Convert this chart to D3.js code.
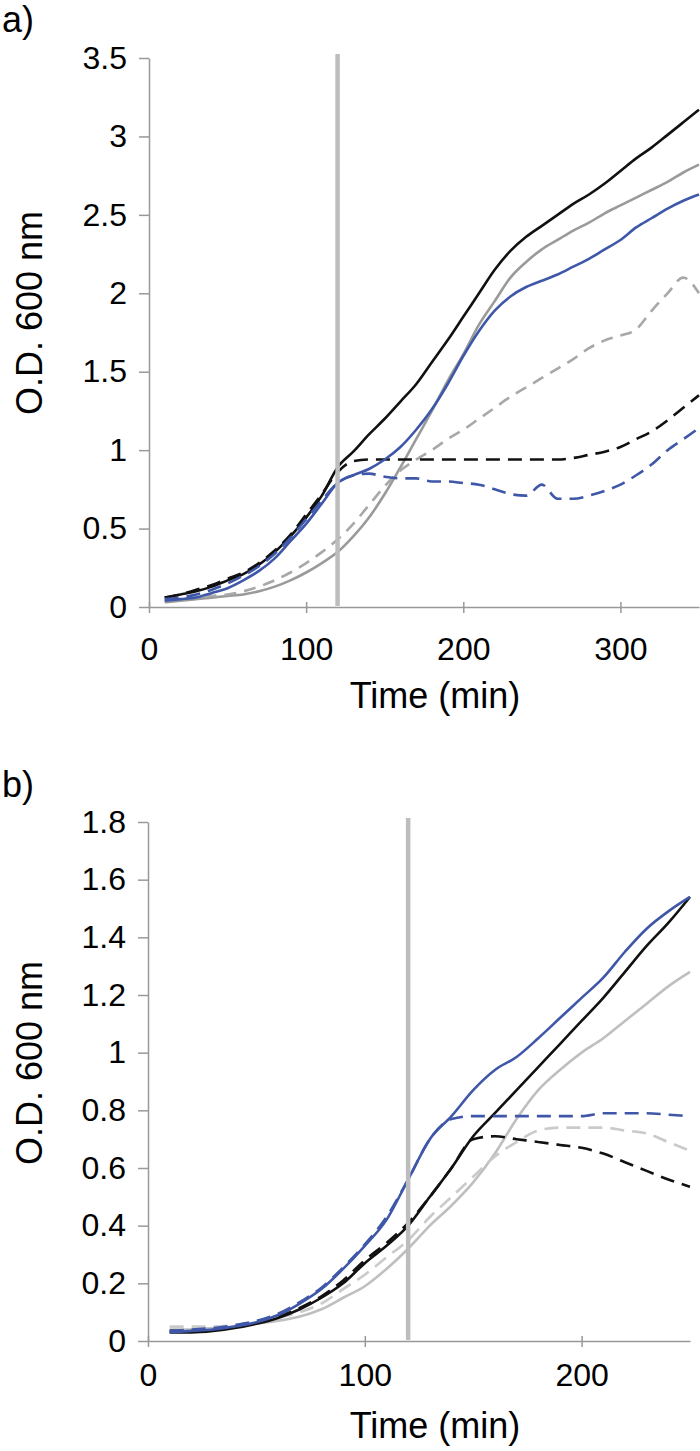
<!DOCTYPE html>
<html>
<head>
<meta charset="utf-8">
<script src="https://cdn.jsdelivr.net/npm/d3@7/dist/d3.min.js"></script>
<style>
  body { margin: 0; background: #fff; }
  text { font-family: "Liberation Sans", Arial, Helvetica, sans-serif; fill: #000; }
</style>
</head>
<body>
<svg id="chart" width="700" height="1451"></svg>
<script>
// ---- panel a data (time in min, O.D. 600 nm) ----
const timeA = [10,20,30,40,50,60,70,80,90,100,110,120,130,140,150,160,170,180,190,200,
               210,220,230,240,250,260,270,280,290,300,310,320,330,340,350]
const aBlackSolid = [0.06,0.08,0.10,0.13,0.17,0.21,0.27,0.35,0.45,0.57,0.71,0.89,0.99,1.10,1.20,1.31,1.42,1.56,1.70,1.85,
                     2.00,2.15,2.27,2.36,2.43,2.50,2.57,2.63,2.70,2.78,2.86,2.93,3.01,3.09,3.17]
const aBlackDash  = [0.06,0.08,0.11,0.14,0.18,0.22,0.28,0.36,0.46,0.59,0.72,0.86,0.93,0.94,0.94,0.94,0.94,0.94,0.94,0.94,
                     0.94,0.94,0.94,0.94,0.94,0.94,0.95,0.97,0.99,1.02,1.07,1.12,1.19,1.27,1.35]
const aBlueSolid  = [0.04,0.05,0.06,0.09,0.12,0.17,0.23,0.31,0.42,0.53,0.66,0.79,0.84,0.88,0.94,1.02,1.13,1.26,1.42,1.60,
                     1.76,1.89,1.98,2.04,2.08,2.12,2.17,2.22,2.28,2.34,2.42,2.48,2.54,2.59,2.63]
const aBlueDash   = [0.05,0.06,0.08,0.11,0.15,0.20,0.26,0.34,0.44,0.56,0.68,0.79,0.84,0.85,0.83,0.82,0.82,0.80,0.80,0.79,
                     0.78,0.75,0.72,0.71,0.78,0.69,0.69,0.71,0.74,0.78,0.84,0.91,1.00,1.07,1.14]
const aGreySolid  = [0.03,0.04,0.05,0.06,0.07,0.08,0.10,0.13,0.17,0.22,0.28,0.35,0.45,0.57,0.72,0.89,1.07,1.25,1.44,1.61,
                     1.80,1.95,2.10,2.20,2.28,2.34,2.40,2.45,2.51,2.56,2.61,2.66,2.71,2.77,2.82]
const aGreyDash   = [0.04,0.05,0.06,0.07,0.08,0.10,0.13,0.17,0.22,0.28,0.35,0.43,0.53,0.65,0.77,0.87,0.94,1.00,1.07,1.13,
                     1.20,1.27,1.34,1.40,1.46,1.52,1.58,1.65,1.70,1.73,1.77,1.89,2.00,2.10,2.00]
const aYTicks = [0,0.5,1,1.5,2,2.5,3,3.5]
const aXTicks = [0,100,200,300]

// ---- panel b data ----
const timeB = [10,20,30,40,50,60,70,80,90,100,110,120,130,140,150,160,170,180,190,200,210,220,230,240,250]
const bBlackSolid = [0.03,0.03,0.035,0.045,0.06,0.08,0.11,0.15,0.20,0.27,0.33,0.40,0.50,0.60,0.71,0.79,0.87,0.95,1.03,1.11,1.19,1.28,1.37,1.45,1.54]
const bBlackDash  = [0.035,0.035,0.04,0.05,0.065,0.085,0.115,0.155,0.21,0.28,0.34,0.41,0.50,0.60,0.70,0.71,0.70,0.69,0.68,0.67,0.65,0.62,0.59,0.56,0.535]
const bBlueSolid  = [0.03,0.035,0.04,0.05,0.065,0.09,0.13,0.18,0.25,0.33,0.42,0.56,0.70,0.78,0.87,0.94,0.985,1.05,1.12,1.19,1.26,1.35,1.43,1.49,1.54]
const bBlueDash   = [0.035,0.04,0.045,0.055,0.07,0.095,0.135,0.185,0.255,0.335,0.43,0.56,0.70,0.77,0.78,0.78,0.78,0.78,0.78,0.78,0.79,0.79,0.79,0.785,0.78]
const bGreySolid  = [0.04,0.04,0.045,0.05,0.06,0.07,0.085,0.11,0.15,0.19,0.25,0.32,0.40,0.47,0.55,0.65,0.77,0.87,0.94,1.00,1.05,1.11,1.17,1.23,1.28]
const bGreyDash   = [0.05,0.05,0.05,0.055,0.065,0.08,0.10,0.13,0.18,0.23,0.29,0.35,0.43,0.50,0.57,0.64,0.69,0.73,0.74,0.74,0.74,0.73,0.72,0.69,0.66]
const bYTicks = [0,0.2,0.4,0.6,0.8,1,1.2,1.4,1.6,1.8]
const bXTicks = [0,100,200]

const shiftTime = 120   // time the cultures were treated (grey vertical bar)

const blue = '#3f57a8'

const panels = [
    {
        label: 'a)', labelY: 32,
        time: timeA, xMax: 350, yMax: 3.5,
        xRange: [149, 699], yRange: [607, 58],
        xTicks: aXTicks, yTicks: aYTicks,
        xLabelGap: 30, titleGap: 101, yTitleY: 313,
        series: [
            {values: aGreySolid, color: '#9a9a9a'},
            {values: aGreyDash, color: '#a8a8a8', dash: '12,8'},
            {values: aBlackSolid, color: '#111'},
            {values: aBlackDash, color: '#111', dash: '14,8'},
            {values: aBlueSolid, color: blue},
            {values: aBlueDash, color: blue, dash: '14,8'},
        ]
    },
    {
        label: 'b)', labelY: 797,
        time: timeB, xMax: 250, yMax: 1.8,
        xRange: [148, 690], yRange: [1341, 822],
        xTicks: bXTicks, yTicks: bYTicks,
        xLabelGap: 22, titleGap: 97, yTitleY: 1063,
        series: [
            {values: bGreySolid, color: '#bfbfbf'},
            {values: bGreyDash, color: '#cacaca', dash: '14,8'},
            {values: bBlackSolid, color: '#111'},
            {values: bBlackDash, color: '#111', dash: '14,8'},
            {values: bBlueSolid, color: blue},
            {values: bBlueDash, color: blue, dash: '14,8'},
        ]
    }
]

const svg = d3.select('#chart')

panels.forEach(p => {
    const xScale = d3.scaleLinear().domain([0, p.xMax]).range(p.xRange)
    const yScale = d3.scaleLinear().domain([0, p.yMax]).range(p.yRange)
    const g = svg.append('g')

    // panel letter
    svg.append('text')
        .attr('x', 2)
        .attr('y', p.labelY)
        .style('font-size', '36px')
        .text(p.label)

    // y axis
    const yAxis = g.append('g')
        .attr('transform', `translate(${p.xRange[0]},0)`)
        .call(d3.axisLeft(yScale).tickValues(p.yTicks).tickSize(10).tickSizeOuter(0).tickPadding(12)
            .tickFormat(d => String(d)))
    yAxis.select('.domain').attr('stroke', '#999').attr('stroke-width', 1.5)
    yAxis.selectAll('.tick line').attr('stroke', '#999').attr('stroke-width', 1.5)
    yAxis.selectAll('.tick text').style('font-size', '32px').attr('fill', '#000')

    // x axis, ticks cross the line
    const xAxis = g.append('g')
        .attr('transform', `translate(0,${p.yRange[0]})`)
        .call(d3.axisBottom(xScale).tickValues(p.xTicks).tickSizeOuter(0)
            .tickFormat(d => String(d)))
    xAxis.select('.domain').attr('stroke', '#999').attr('stroke-width', 1.5)
    xAxis.selectAll('.tick line').attr('y1', -5).attr('y2', 6).attr('stroke', '#999').attr('stroke-width', 1.5)
    xAxis.selectAll('.tick text')
        .attr('y', p.xLabelGap).attr('dy', '0.71em')
        .style('font-size', '32px').attr('fill', '#000')

    // axis titles
    g.append('text')
        .attr('text-anchor', 'middle')
        .attr('x', 435)
        .attr('y', p.yRange[0] + p.titleGap)
        .style('font-size', '36px')
        .text('Time (min)')

    g.append('text')
        .attr('text-anchor', 'middle')
        .attr('transform', `translate(42,${p.yTitleY}) rotate(-90)`)
        .style('font-size', '36px')
        .text('O.D. 600 nm')

    // growth curves
    const line = d3.line()
        .x((d, i) => xScale(p.time[i]))
        .y(d => yScale(d))
        .curve(d3.curveMonotoneX)

    p.series.forEach(s => {
        g.append('path')
            .datum(s.values)
            .attr('fill', 'none')
            .attr('stroke', s.color)
            .attr('stroke-width', 2.6)
            .attr('stroke-dasharray', s.dash || null)
            .attr('d', line)
    })

    // treatment marker
    g.append('line')
        .attr('x1', xScale(shiftTime)).attr('x2', xScale(shiftTime))
        .attr('y1', yScale(0) - 1)
        .attr('y2', yScale(p.yMax) - 4)
        .attr('stroke', '#bdbdbd')
        .attr('stroke-width', 4.5)
})
</script>
</body>
</html>
